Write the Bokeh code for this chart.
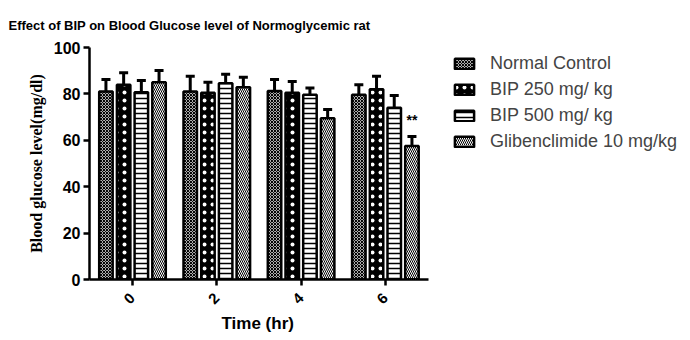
from math import pi
from bokeh.plotting import figure
from bokeh.models import (ColumnDataSource, Whisker, TeeHead, Legend, LegendItem,
                          FixedTicker, Range1d, Title)
from bokeh.core.properties import value
from bokeh.embed import file_html
from bokeh.resources import INLINE

# ---- data ----
times = ["0", "2", "4", "6"]
series = ["Normal Control", "BIP 250 mg/ kg", "BIP 500 mg/ kg", "Glibenclimide 10 mg/kg"]
normal_control = [81.0, 81.0, 81.2, 79.6]
bip250 = [83.9, 80.5, 80.5, 82.0]
bip500 = [80.7, 84.6, 79.6, 74.0]
glib = [85.0, 82.9, 69.5, 57.5]
normal_sem = [5.2, 6.6, 5.0, 4.3]
bip250_sem = [5.2, 4.5, 4.8, 5.6]
bip500_sem = [5.1, 3.9, 2.9, 5.3]
glib_sem = [5.1, 4.3, 3.8, 4.1]
sig_labels = ["", "", "", "**"]

means = [normal_control, bip250, bip500, glib]
sems = [normal_sem, bip250_sem, bip500_sem, glib_sem]

styles = [
    dict(fill_color="white", hatch_pattern="diagonal_cross", hatch_color="black", hatch_scale=3, hatch_weight=1.2),
    dict(fill_color="black", hatch_pattern="dot", hatch_color="white", hatch_scale=8, hatch_weight=4),
    dict(fill_color="white", hatch_pattern="horizontal_line", hatch_color="black", hatch_scale=5, hatch_weight=1.5),
    dict(fill_color="white", hatch_pattern="left_diagonal_line", hatch_color="black", hatch_scale=4, hatch_weight=1),
]

FONT = "Liberation Sans"
step = 0.21
bar_w = 0.16
x_start, x_axis_end = -0.51, 3.51
px_per_unit = 84.3
frame_w = 690 - 89
x_end = x_start + frame_w / px_per_unit

p = figure(width=690, height=340, output_backend="svg", toolbar_location=None,
           x_range=Range1d(x_start, x_end), y_range=Range1d(0, 100),
           min_border_left=89, min_border_right=0, min_border_top=47, min_border_bottom=61)
p.outline_line_color = None
p.xgrid.visible = False
p.ygrid.visible = False
p.background_fill_color = "white"

items = []
for i, name in enumerate(series):
    xs = [g + (i - 1.5) * step for g in range(len(times))]
    src = ColumnDataSource(dict(x=xs, top=means[i],
                                upper=[m + s for m, s in zip(means[i], sems[i])]))
    r = p.vbar(x="x", top="top", bottom=0, width=bar_w, source=src,
               line_color="black", line_width=2.5, **styles[i])
    w = Whisker(source=src, base="x", upper="upper", lower="top", dimension="height",
                line_color="black", line_width=3,
                upper_head=TeeHead(size=9, line_width=3, line_color="black"), lower_head=None)
    p.add_layout(w)
    items.append(LegendItem(label=name, renderers=[r]))

# significance markers above glibenclimide bars
sig_src = ColumnDataSource(dict(x=[g + 1.5 * step for g in range(len(times))],
                                y=[m + s + 7 for m, s in zip(glib, glib_sem)],
                                t=sig_labels))
p.text(x="x", y="y", text="t", source=sig_src, text_align="center", text_baseline="middle",
       text_font=value(FONT), text_font_size="14px", text_font_style="bold", text_color="black")

legend = Legend(items=items, location=(363, 127), border_line_color=None,
                background_fill_alpha=0,
                label_text_font=FONT, label_text_font_size="18px",
                glyph_width=24, glyph_height=13, label_height=20, spacing=5,
                padding=4, margin=0, label_standoff=14)
p.add_layout(legend)

# axes
p.xaxis.bounds = (x_start, x_axis_end)
p.xaxis.ticker = FixedTicker(ticks=list(range(len(times))))
p.xaxis.major_label_overrides = {i: t for i, t in enumerate(times)}
p.xaxis.major_label_orientation = pi / 4
p.yaxis.ticker = FixedTicker(ticks=[0, 20, 40, 60, 80, 100])
for ax in (p.xaxis[0], p.yaxis[0]):
    ax.axis_line_width = 2.5
    ax.axis_line_color = "black"
    ax.major_tick_line_width = 2.5
    ax.major_tick_line_color = "black"
    ax.major_tick_out = 6
    ax.major_tick_in = 0
    ax.minor_tick_line_color = None
    ax.major_label_text_font = FONT
    ax.major_label_text_font_style = "bold"
    ax.major_label_text_color = "black"
p.yaxis.major_label_text_font_size = "16px"
p.xaxis.major_label_text_font_size = "15px"
p.yaxis.major_label_standoff = 3
p.xaxis.major_label_standoff = 10

p.yaxis.axis_label = "Blood glucose level(mg/dl)"
p.yaxis.axis_label_text_font = "Liberation Serif"
p.yaxis.axis_label_text_font_size = "16px"
p.yaxis.axis_label_text_font_style = "bold"
p.yaxis.axis_label_text_color = "black"
p.yaxis.axis_label_standoff = 6

# x axis title, centred under the drawn (bounded) axis line
x_title = Title(text="Time (hr)", align="left", offset=132, standoff=0,
                text_font=FONT, text_font_size="17px", text_font_style="bold",
                text_color="black")
p.add_layout(x_title, "below")

p.title.text = "Effect of BIP on Blood Glucose level of Normoglycemic rat"
p.title.text_font = FONT
p.title.text_font_size = "13px"
p.title.text_font_style = "bold"
p.title.text_color = "black"
p.title.align = "left"
p.title.offset = -81
p.title.vertical_align = "top"
p.title.standoff = 26

open("out.html", "w").write(file_html(p, INLINE))
